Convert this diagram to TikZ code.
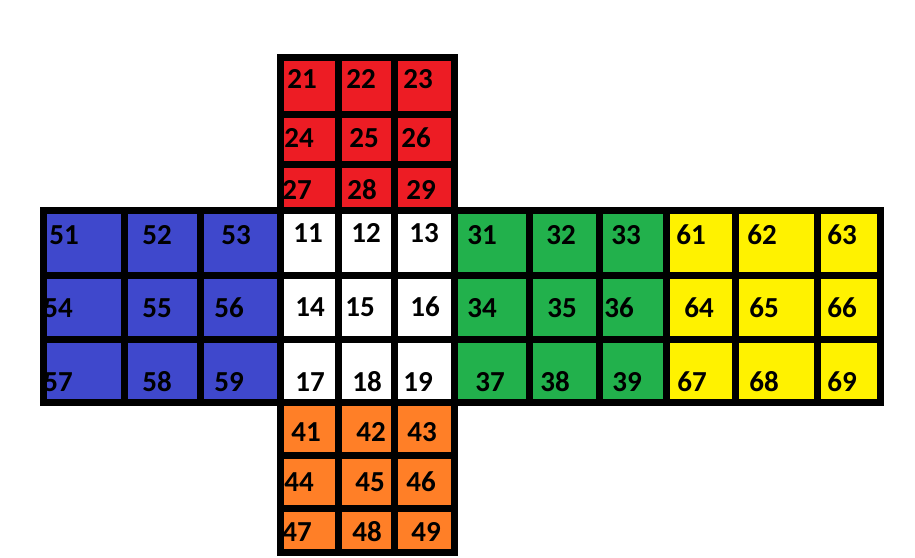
\documentclass[tikz,border=0pt]{standalone}
\usepackage{fontspec}
\setmainfont{Carlito}
\usetikzlibrary{calc}
\definecolor{cubered}{RGB}{237,28,36}
\definecolor{cubeblue}{RGB}{63,72,204}
\definecolor{cubegreen}{RGB}{34,177,76}
\definecolor{cubeyellow}{RGB}{255,242,0}
\definecolor{cubeorange}{RGB}{255,127,39}

\begin{document}
\begin{tikzpicture}[x=1pt,y=-1pt,
    grid/.style={line width=7pt,line cap=rect},
    num/.style={font=\fontsize{29}{29}\selectfont\bfseries,inner sep=0pt}]
    \useasboundingbox[fill=white] (0,0) rectangle (915,557);

    % the six faces
    \fill[cubered] (280,57) rectangle (454,210);
    \fill[white] (280,210) rectangle (454,402);
    \fill[cubeblue] (43,210) rectangle (280,402);
    \fill[cubegreen] (454,210) rectangle (666,402);
    \fill[cubeyellow] (666,210) rectangle (880,402);
    \fill[cubeorange] (280,402) rectangle (454,552);

    \foreach \n/\x/\y in {21/302/79, 22/361/79, 23/418/79,
        24/299/138, 25/364/138, 26/416/138,
        27/297/190, 28/362/190, 29/421/190,
        11/308/233, 12/366/233, 13/424/233,
        14/310/307, 15/360/307, 16/425/307,
        17/310/382, 18/367/382, 19/418/382,
        51/64/235, 52/157/235, 53/236/235,
        54/58/308, 55/157/308, 56/229/308,
        57/58/382, 58/157/382, 59/229/382,
        31/482/235, 32/561/235, 33/626/235,
        34/482/308, 35/562/308, 36/619/308,
        37/490/382, 38/555/382, 39/627/382,
        61/691/235, 62/762/235, 63/842/235,
        64/699/308, 65/764/308, 66/842/308,
        67/692/382, 68/764/382, 69/842/382,
        41/306/432, 42/371/432, 43/422/432,
        44/299/482, 45/370/482, 46/421/482,
        47/297/532, 48/367/532, 49/426/532}{
        \node[num] (n\n) at (\x,\y) {\n};
    }

    % grid lines on top
    \foreach \x in {43,124,200,280,338,394,454,529,599,666,735,817,880}{
        \draw[grid] (\x,210) -- (\x,402);
    }
    \foreach \y in {210,275,339,402}{
        \draw[grid] (43,\y) -- (880,\y);
    }
    \foreach \x in {280,338,394,454}{
        \draw[grid] (\x,57) -- (\x,210);
        \draw[grid] (\x,402) -- (\x,552);
    }
    \foreach \y in {57,114,164,455,508,552}{
        \draw[grid] (280,\y) -- (454,\y);
    }
\end{tikzpicture}
\end{document}
